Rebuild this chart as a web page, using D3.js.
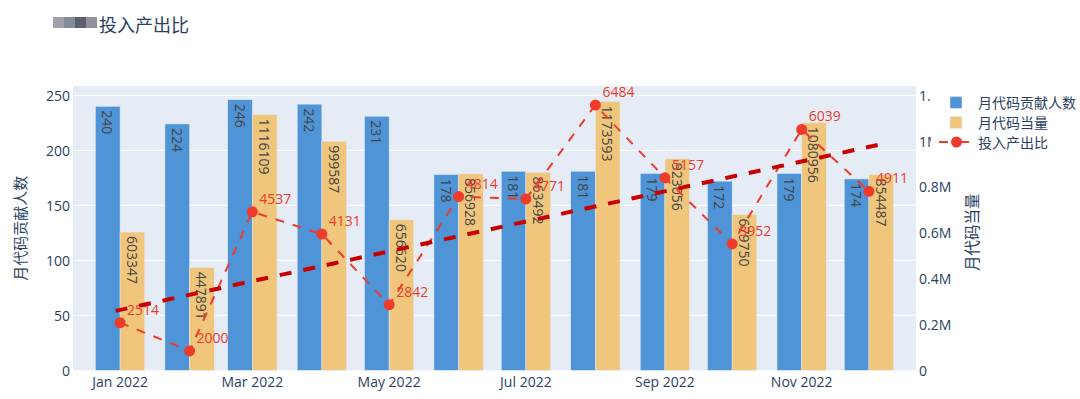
<!DOCTYPE html>
<html><head><meta charset="utf-8">
<script src="https://cdn.jsdelivr.net/npm/d3@7"></script>
<style>
body{margin:0;background:#fff}
svg{display:block}
text{font-family:"Open Sans","Noto Sans CJK SC",sans-serif}
</style>
</head><body><svg id="c" width="1080" height="399"></svg>
<script>
// ---- data ----
const months = ["2022-01-01","2022-02-01","2022-03-01","2022-04-01","2022-05-01","2022-06-01",
                "2022-07-01","2022-08-01","2022-09-01","2022-10-01","2022-11-01","2022-12-01"];
const contributors = [240,224,246,242,231,178,181,181,179,172,179,174];
const codeVolume = [603347,447891,1116109,999587,656620,856928,863492,1173593,923056,679750,1080956,854487];
const ratio = [2514,2000,4537,4131,2842,4814,4771,6484,5157,3952,6039,4911];
const trendDates = ["2021-12-30","2022-12-07"];
const trendValues = [2730,5775];
const leftTicks = [0,50,100,150,200,250];
const rightTicks = [0,200000,400000,600000,800000,1000000,1200000];
const rightTickLabels = ["0","0.2M","0.4M","0.6M","0.8M","1M","1.2M"];
const xTicks = ["2022-01-01","2022-03-01","2022-05-01","2022-07-01","2022-09-01","2022-11-01"];
const seriesNames = ["月代码贡献人数","月代码当量","投入产出比"];
const titleText = "投入产出比";
const leftTitle = "月代码贡献人数";
const rightTitle = "月代码当量";

// ---- layout ----
const P = {l:73, r:916, t:86, b:370.3};
const parse = d3.utcParse("%Y-%m-%d");
const DAY = 864e5;
const svg = d3.select("#c");
const x = d3.scaleUtc().domain([parse("2021-12-11"), parse("2022-12-22")]).range([P.l, P.r]);
const yL = d3.scaleLinear().domain([0, 258.5]).range([P.b, P.t]);
const yR = d3.scaleLinear().domain([0, 1240800]).range([P.b, P.t]);
const yQ = d3.scaleLinear().domain([1647, 6831]).range([P.b, P.t]);
const textCol = "#2a3f5f";
const blue = "#4e94d6", orange = "#f0c67c", red = "#ef3b2c", dark = "#c80000";

// title + redacted prefix
const red4 = ["#8e8f9c","#6f7585","#3e4258","#7a7d8c"];
red4.forEach((c,i)=>svg.append("rect").attr("x",53+i*11).attr("y",17).attr("width",11).attr("height",11).attr("fill",c).attr("opacity",0.85));
svg.append("text").attr("x",99).attr("y",25).attr("dominant-baseline","central")
  .attr("font-size",18).attr("fill",textCol).text(titleText);

// plot bg
svg.append("rect").attr("x",P.l).attr("y",P.t).attr("width",P.r-P.l).attr("height",P.b-P.t).attr("fill","#e5ecf6");
// grid
svg.append("g").selectAll("line").data(leftTicks.slice(1)).join("line")
  .attr("x1",P.l).attr("x2",P.r).attr("y1",d=>yL(d)).attr("y2",d=>yL(d))
  .attr("stroke","#fff").attr("stroke-width",1);

const dates = months.map(parse);
const bw = d => x(new Date(+d + 11*DAY)) - x(d);

// bars
const gB = svg.append("g");
gB.selectAll("rect.b").data(dates).join("rect")
  .attr("x",d=>x(new Date(+d-11*DAY))).attr("width",d=>bw(d))
  .attr("y",(d,i)=>yL(contributors[i])).attr("height",(d,i)=>yL(0)-yL(contributors[i]))
  .attr("fill",blue).attr("stroke","#e5ecf6").attr("stroke-width",0.5);
gB.selectAll("rect.o").data(dates).join("rect")
  .attr("x",d=>x(d)).attr("width",d=>bw(d))
  .attr("y",(d,i)=>yR(codeVolume[i])).attr("height",(d,i)=>yR(0)-yR(codeVolume[i]))
  .attr("fill",orange).attr("stroke","#e5ecf6").attr("stroke-width",0.5);
// bar texts
gB.selectAll("text.b").data(dates).join("text")
  .attr("transform",(d,i)=>`translate(${x(new Date(+d-5.5*DAY))},${yL(contributors[i])+4}) rotate(90)`)
  .attr("dominant-baseline","central").attr("font-size",14).attr("fill","#444")
  .text((d,i)=>contributors[i]);
gB.selectAll("text.o").data(dates).join("text")
  .attr("transform",(d,i)=>`translate(${x(new Date(+d+5.5*DAY))},${yR(codeVolume[i])+4}) rotate(90)`)
  .attr("dominant-baseline","central").attr("font-size",14).attr("fill","#444")
  .text((d,i)=>codeVolume[i]);

// ratio line
const line = d3.line().x(d=>x(d[0])).y(d=>yQ(d[1]));
svg.append("path").attr("d",line(dates.map((d,i)=>[d,ratio[i]])))
  .attr("fill","none").attr("stroke",red).attr("stroke-width",2).attr("stroke-dasharray","9,9");
svg.append("g").selectAll("circle").data(dates).join("circle")
  .attr("cx",d=>x(d)).attr("cy",(d,i)=>yQ(ratio[i])).attr("r",5.5).attr("fill",red);
svg.append("g").selectAll("text").data(dates).join("text")
  .attr("x",d=>x(d)+7).attr("y",(d,i)=>yQ(ratio[i])-13.5).attr("dominant-baseline","central")
  .attr("font-size",14).attr("fill",red).text((d,i)=>ratio[i]);

// trend line
svg.append("path").attr("d",line(trendDates.map((d,i)=>[parse(d),trendValues[i]])))
  .attr("fill","none").attr("stroke",dark).attr("stroke-width",4).attr("stroke-dasharray","12,12");

// axes labels
svg.append("g").selectAll("text").data(leftTicks).join("text")
  .attr("x",70).attr("y",d=>yL(d)).attr("text-anchor","end").attr("dominant-baseline","central")
  .attr("font-size",14).attr("fill",textCol).text(d=>d);
svg.append("g").selectAll("text").data(rightTicks).join("text")
  .attr("x",919).attr("y",d=>yR(d)).attr("dominant-baseline","central")
  .attr("font-size",14).attr("fill",textCol).text((d,i)=>rightTickLabels[i]);
const fmt = d3.utcFormat("%b %Y");
svg.append("g").selectAll("text").data(xTicks.map(parse)).join("text")
  .attr("x",d=>x(d)).attr("y",381).attr("text-anchor","middle").attr("dominant-baseline","central")
  .attr("font-size",14).attr("fill",textCol).text(d=>fmt(d));
svg.append("text").attr("transform",`translate(20,${(P.t+P.b)/2}) rotate(-90)`)
  .attr("text-anchor","middle").attr("dominant-baseline","central")
  .attr("font-size",15).attr("fill",textCol).text(leftTitle);
svg.append("text").attr("transform",`translate(972,${(P.t+P.b)/2+4}) rotate(-90)`)
  .attr("text-anchor","middle").attr("dominant-baseline","central")
  .attr("font-size",15.5).attr("fill",textCol).text(rightTitle);

// legend
const lg = svg.append("g");
lg.append("rect").attr("x",931).attr("y",86).attr("width",149).attr("height",68).attr("fill","#fff");
const ly = [102.5,122.5,142];
[blue,orange].forEach((c,i)=>lg.append("rect").attr("x",950).attr("y",ly[i]-6).attr("width",12).attr("height",12)
  .attr("fill",c).attr("stroke","#e5ecf6").attr("stroke-width",0.5));
lg.append("line").attr("x1",939).attr("x2",969).attr("y1",ly[2]).attr("y2",ly[2])
  .attr("stroke",red).attr("stroke-width",2).attr("stroke-dasharray","9,9").attr("stroke-dashoffset",0);
lg.append("line").attr("x1",960).attr("x2",969).attr("y1",ly[2]).attr("y2",ly[2])
  .attr("stroke",red).attr("stroke-width",2);
lg.append("circle").attr("cx",956.5).attr("cy",ly[2]).attr("r",5.5).attr("fill",red);
lg.selectAll("text").data(seriesNames).join("text")
  .attr("x",978).attr("y",(d,i)=>ly[i]).attr("dominant-baseline","central")
  .attr("font-size",14).attr("fill",textCol).text(d=>d);
</script>
</body></html>
